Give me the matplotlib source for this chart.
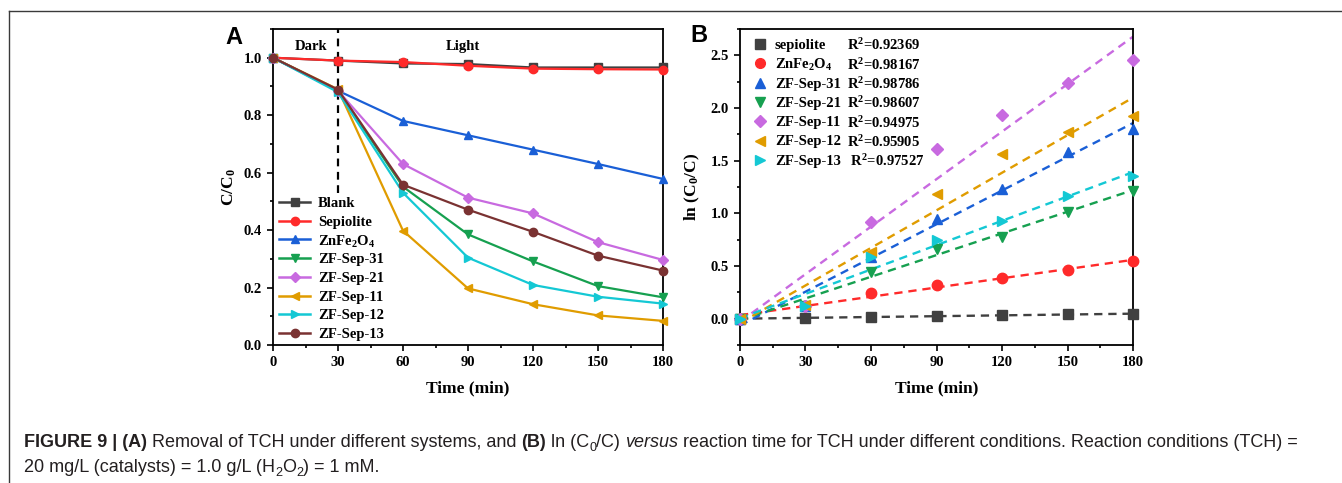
import numpy as np
import matplotlib
matplotlib.use("Agg")
import matplotlib.pyplot as plt
from matplotlib.lines import Line2D
from matplotlib.ticker import MultipleLocator

plt.rcParams['mathtext.fontset'] = 'custom'
plt.rcParams['mathtext.rm'] = 'Liberation Serif:bold'
plt.rcParams['mathtext.it'] = 'Liberation Serif:bold:italic'
plt.rcParams['mathtext.bf'] = 'Liberation Serif:bold'
plt.rcParams['font.family'] = 'Liberation Serif'
plt.rcParams['font.weight'] = 'bold'

# ---------------- data ----------------
time = [0, 30, 60, 90, 120, 150, 180]

names_a = ["Blank", "Sepiolite", "ZnFe$_2$O$_4$", "ZF-Sep-31", "ZF-Sep-21",
           "ZF-Sep-11", "ZF-Sep-12", "ZF-Sep-13"]
blank = [1.0, 0.99, 0.98, 0.978, 0.966, 0.966, 0.966]
sepiolite = [1.0, 0.99, 0.985, 0.972, 0.962, 0.96, 0.959]
znfe2o4 = [1.0, 0.885, 0.78, 0.73, 0.68, 0.63, 0.578]
zf31 = [1.0, 0.885, 0.551, 0.385, 0.291, 0.205, 0.166]
zf21 = [1.0, 0.885, 0.63, 0.513, 0.458, 0.358, 0.296]
zf11 = [1.0, 0.89, 0.398, 0.197, 0.142, 0.103, 0.084]
zf12 = [1.0, 0.88, 0.53, 0.304, 0.209, 0.168, 0.144]
zf13 = [1.0, 0.889, 0.558, 0.471, 0.394, 0.311, 0.259]
series_a = [blank, sepiolite, znfe2o4, zf31, zf21, zf11, zf12, zf13]

names_b = ["sepiolite", "ZnFe$_2$O$_4$", "ZF-Sep-31", "ZF-Sep-21",
           "ZF-Sep-11", "ZF-Sep-12", "ZF-Sep-13"]
r2_labels = ["R$^2$=0.92369", "R$^2$=0.98167", "R$^2$=0.98786", "R$^2$=0.98607",
             "R$^2$=0.94975", "R$^2$=0.95905", " R$^2$=0.97527"]
ln_sep = [0, 0.005, 0.013, 0.028, 0.036, 0.04, 0.043]
ln_znfe = [0, 0.122, 0.245, 0.315, 0.385, 0.46, 0.545]
ln_31 = [0, 0.12, 0.59, 0.95, 1.235, 1.58, 1.80]
ln_21 = [0, 0.12, 0.44, 0.66, 0.78, 1.015, 1.21]
ln_11 = [0, 0.12, 0.915, 1.607, 1.935, 2.24, 2.455]
ln_12 = [0, 0.125, 0.635, 1.185, 1.56, 1.775, 1.92]
ln_13 = [0, 0.12, 0.585, 0.745, 0.925, 1.16, 1.35]
series_b = [ln_sep, ln_znfe, ln_31, ln_21, ln_11, ln_12, ln_13]

# ---------------- styles ----------------
gray = '#404040'
red = '#ff2a2a'
blue = '#1a5fd6'
green = '#16a050'
violet = '#c86ae0'
orange = '#e09c00'
cyan = '#14c8d4'
brown = '#7a3232'
colors_a = [gray, red, blue, green, violet, orange, cyan, brown]
markers_a = ['s', 'o', '^', 'v', 'D', '<', '>', 'o']
colors_b = [gray, red, blue, green, violet, orange, cyan]
markers_b = ['s', 'o', '^', 'v', 'D', '<', '>']

W, H = 1342, 483
fig = plt.figure(figsize=(W / 100, H / 100), dpi=100)

def style_axes(ax):
    for s in ax.spines.values():
        s.set_linewidth(1.3)
    ax.tick_params(which='both', direction='out', width=1.2, labelsize=10.5,
                   top=False, right=False)
    ax.tick_params(which='major', length=4.5)
    ax.tick_params(which='minor', length=2.5)
    for lab in ax.get_xticklabels() + ax.get_yticklabels():
        lab.set_fontweight('bold')

# ---------------- panel A ----------------
axA = fig.add_axes([273 / W, 1 - 345 / H, 390 / W, 316 / H])
for name, ys, c, m in zip(names_a, series_a, colors_a, markers_a):
    axA.plot(time, ys, color=c, marker=m, ms=6 if m not in ('D',) else 5,
             lw=1.6, label=name, clip_on=False, zorder=3)
axA.set_xlim(0, 180)
axA.set_ylim(0, 1.1)
axA.xaxis.set_major_locator(MultipleLocator(30))
axA.xaxis.set_minor_locator(MultipleLocator(15))
axA.yaxis.set_major_locator(MultipleLocator(0.2))
axA.yaxis.set_minor_locator(MultipleLocator(0.1))
axA.yaxis.set_major_formatter(matplotlib.ticker.FormatStrFormatter('%.1f'))
axA.axvline(30, ymin=0.53 / 1.1, ymax=1, color='black', ls=(0, (3.5, 2.5)), lw=1.6, zorder=2)
axA.text(17.5, 1.038, "Dark", ha='center', va='center', fontsize=10.5, fontweight='bold')
axA.text(87.5, 1.038, "Light", ha='center', va='center', fontsize=10.5, fontweight='bold')
axA.set_xlabel("Time (min)", fontsize=12.5, fontweight='bold', labelpad=8)
axA.set_ylabel("C/C$_0$", fontsize=12.5, fontweight='bold', labelpad=4)
style_axes(axA)

# legend A drawn row by row for even spacing
rowA_top = (345 - 202) / 316
rowA_step = 18.7 / 316
for i, (name, c, m) in enumerate(zip(names_a, colors_a, markers_a)):
    yy = rowA_top - i * rowA_step
    axA.add_line(Line2D([6 / 390, 37 / 390], [yy, yy], color=c, lw=1.8,
                        transform=axA.transAxes, zorder=4))
    axA.add_line(Line2D([21.5 / 390], [yy], color=c, marker=m, ls='none',
                        ms=6 if m != 'D' else 5, transform=axA.transAxes, zorder=4))
    axA.text(45 / 390, yy, name, transform=axA.transAxes, va='center_baseline',
             ha='left', fontsize=10.5, fontweight='bold')
fig.text(225 / W, 1 - 38 / H, "A", fontsize=17, fontweight='bold',
         family='Liberation Sans', va='center', ha='left')

# ---------------- panel B ----------------
axB = fig.add_axes([740 / W, 1 - 345 / H, 393 / W, 316 / H])
tarr = np.asarray(time, dtype=float)
for name, ys, c, m in zip(names_b, series_b, colors_b, markers_b):
    k, b0 = np.polyfit(tarr, np.asarray(ys), 1)
    xs = np.array([tarr.min(), tarr.max()])
    axB.plot(xs, k * xs + b0, color=c, ls=(0, (3.5, 2.5)), lw=1.7, zorder=2)
    axB.plot(time, ys, ls='none', color=c, marker=m, ms=7.5 if m != 'D' else 6.5,
             clip_on=False, zorder=3)
axB.set_xlim(0, 180)
axB.set_ylim(-0.25, 2.75)
axB.xaxis.set_major_locator(MultipleLocator(30))
axB.xaxis.set_minor_locator(MultipleLocator(15))
axB.yaxis.set_major_locator(MultipleLocator(0.5))
axB.yaxis.set_minor_locator(MultipleLocator(0.25))
axB.yaxis.set_major_formatter(matplotlib.ticker.FormatStrFormatter('%.1f'))
axB.set_xlabel("Time (min)", fontsize=12.5, fontweight='bold', labelpad=8)
axB.set_ylabel("ln (C$_0$/C)", fontsize=12.5, fontweight='bold', labelpad=6)
style_axes(axB)

rowB_top = (345 - 44) / 316
rowB_step = 19.3 / 316
for i, (name, r2, c, m) in enumerate(zip(names_b, r2_labels, colors_b, markers_b)):
    yy = rowB_top - i * rowB_step
    axB.add_line(Line2D([20 / 393], [yy], color=c, marker=m, ls='none',
                        ms=7 if m != 'D' else 6, transform=axB.transAxes, zorder=4))
    axB.text(35 / 393, yy, name, transform=axB.transAxes, va='center_baseline',
             ha='left', fontsize=10.5, fontweight='bold')
    axB.text(107 / 393, yy, r2, transform=axB.transAxes, va='center_baseline',
             ha='left', fontsize=10.5, fontweight='bold')
fig.text(690 / W, 1 - 35 / H, "B", fontsize=17, fontweight='bold',
         family='Liberation Sans', va='center', ha='left')

# ---------------- frame lines ----------------
fig.add_artist(Line2D([9 / W, 1], [1 - 11 / H, 1 - 11 / H], color='#3a3a3a', lw=1.0,
                      transform=fig.transFigure))
fig.add_artist(Line2D([9 / W, 9 / W], [0, 1 - 11 / H], color='#3a3a3a', lw=1.0,
                      transform=fig.transFigure))

# ---------------- caption ----------------
cap_fs = 12.95
cap_col = '#231f20'
renderer = fig.canvas.get_renderer()

def _props(style, fs):
    p = dict(family='Liberation Sans', fontsize=fs, color=cap_col, weight='normal',
             style='normal')
    if style == 'b':
        p['weight'] = 'bold'
    if style == 'i':
        p['style'] = 'italic'
    return p

def _width(s, p):
    t = fig.text(0, 0, s, **p)
    w = t.get_window_extent(renderer).width
    t.remove()
    return w

space_w = _width("a a", _props('r', cap_fs)) - _width("aa", _props('r', cap_fs))

def draw_line(x_px, y_px, segs):
    x = x_px
    for text, style in segs:
        fs = cap_fs * 0.7 if style == 'sub' else cap_fs
        p = _props('r' if style == 'sub' else style, fs)
        if text.startswith(' '):
            x += space_w
        body = text.strip()
        dy = -4 if style == 'sub' else 0
        t = fig.text(x / W, 1 - (y_px - dy) / H, body, va='baseline', ha='left', **p)
        x += t.get_window_extent(renderer).width
        if text.endswith(' '):
            x += space_w

line1 = [("FIGURE 9 | (A)", 'b'), (" Removal of TCH under different systems, and ", 'r'),
         ("(B)", 'b'), (" ln (C", 'r'), ("0", 'sub'), ("/C) ", 'r'), ("versus", 'i'),
         (" reaction time for TCH under different conditions. Reaction conditions (TCH) =", 'r')]
line2 = [("20 mg/L (catalysts) = 1.0 g/L (H", 'r'), ("2", 'sub'), ("O", 'r'), ("2", 'sub'),
         (") = 1 mM.", 'r')]
draw_line(24, 447, line1)
draw_line(24, 472, line2)

fig.savefig("out.png", dpi=100)
